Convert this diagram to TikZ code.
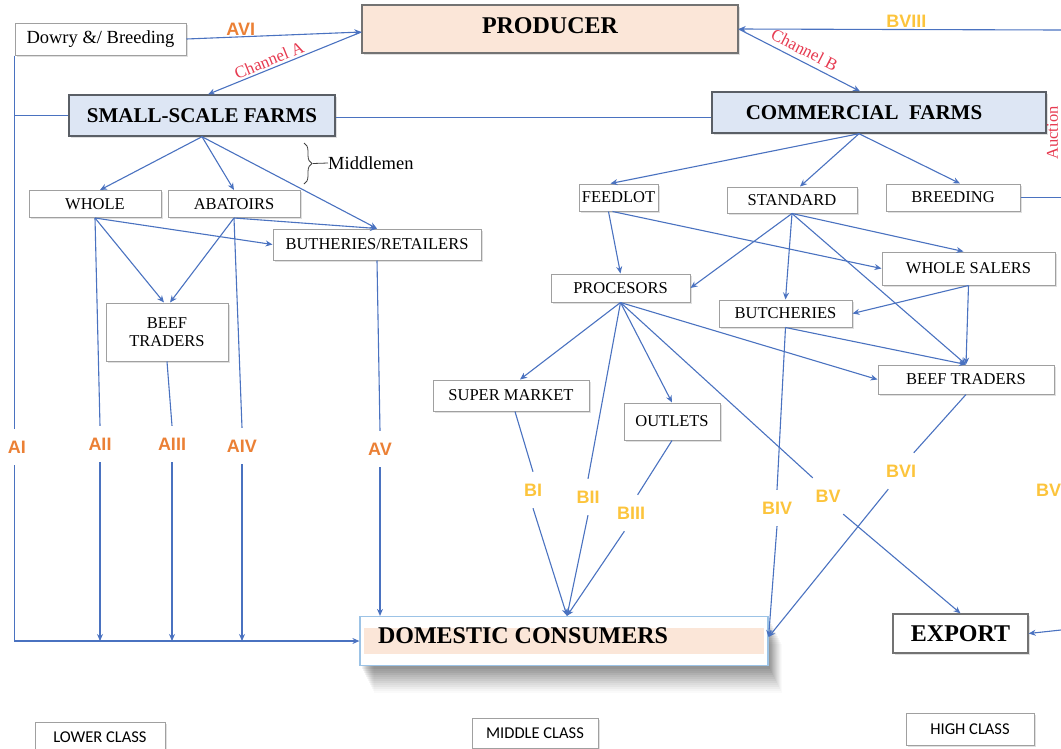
\documentclass[tikz,border=0pt]{standalone}
\usepackage{fontspec}
\setmainfont{Liberation Serif}
\newfontfamily\calib{Carlito}
\newfontfamily\lsans{Liberation Sans}
\usetikzlibrary{arrows.meta,shadows,decorations.pathreplacing,calc}
\definecolor{lineblue}{HTML}{4A72C0}
\definecolor{boxgray}{HTML}{A0A0A0}
\definecolor{darkbord}{HTML}{5A5F66}
\definecolor{lightblue}{HTML}{DDE6F4}
\definecolor{peach}{HTML}{FBE6D8}
\definecolor{domblue}{HTML}{9CC3E6}
\definecolor{aorange}{HTML}{EB8035}
\definecolor{bgold}{HTML}{FCC43C}
\definecolor{chred}{HTML}{E63A50}
\begin{document}
\begin{tikzpicture}[x=1pt,y=-1pt,
  conn/.style={draw=lineblue, line width=1.1pt},
  arr/.style={conn, -{Stealth[length=7pt,width=6pt]}},
  softshadow/.style={drop shadow={shadow xshift=1.5pt, shadow yshift=-1.5pt, opacity=0.3, fill=black!40}},
  sbox/.style={draw=boxgray, fill=white, line width=1pt, inner sep=0pt, align=center,
    font=\fontsize{16.5}{17.5}\selectfont, softshadow},
  bigbox/.style={draw=darkbord, fill=lightblue, line width=1.4pt, inner sep=0pt,
    font=\bfseries\fontsize{21}{23}\selectfont, softshadow},
  classbox/.style={draw=boxgray, fill=white, line width=1pt, inner sep=0pt,
    font=\calib\fontsize{16.5}{17}\selectfont, softshadow},
  labfont/.style={font=\lsans\bfseries\fontsize{18}{18}\selectfont},
  alabel/.style={text=aorange, labfont, minimum width=24, minimum height=36, inner sep=0pt},
  blabel/.style={text=bgold, labfont, minimum width=30, minimum height=36, inner sep=0pt},
  chan/.style={text=chred, font=\fontsize{17}{17}\selectfont, inner sep=1pt}
]
\useasboundingbox (0,0) rectangle (1061,748);
\clip (0,0) rectangle (1061,748);

% ---------- nodes ----------
\node[sbox, minimum width=171, minimum height=32, font=\fontsize{18.5}{19}\selectfont] (dowry) at (100.5,39) {Dowry \&/ Breeding};
\node[draw=black!55, fill=peach, line width=1.3pt, minimum width=376, minimum height=48, inner sep=0pt,
  font=\bfseries\fontsize{24}{26}\selectfont, text depth=7pt, softshadow] (producer) at (550,29) {PRODUCER};
\node[bigbox, minimum width=266, minimum height=41] (small) at (202,115.5) {SMALL-SCALE FARMS};
\node[bigbox, minimum width=334, minimum height=41] (commercial) at (879,112.5) {COMMERCIAL~~FARMS\hspace*{30pt}};

\node[sbox, minimum width=132, minimum height=27] (whole) at (95,204) {WHOLE};
\node[sbox, minimum width=132, minimum height=27] (abatoirs) at (234,204) {ABATOIRS};
\node[sbox, minimum width=208, minimum height=31] (butheries) at (377,244.5) {BUTHERIES/RETAILERS};
\node[sbox, minimum width=122, minimum height=58] (beefL) at (167,332) {BEEF\\TRADERS};

\node[sbox, minimum width=79, minimum height=27] (feedlot) at (618.5,197.5) {FEEDLOT};
\node[sbox, minimum width=130, minimum height=26] (standard) at (792,200) {STANDARD};
\node[sbox, minimum width=134, minimum height=27] (breeding) at (953,197.5) {BREEDING};
\node[sbox, minimum width=173, minimum height=33] (wholesalers) at (968.5,268.5) {WHOLE SALERS};
\node[sbox, minimum width=139, minimum height=28] (procesors) at (620.5,288) {PROCESORS};
\node[sbox, minimum width=133, minimum height=27] (butcheries) at (785.5,313.5) {BUTCHERIES};
\node[sbox, minimum width=176, minimum height=29] (beefR) at (966,379.5) {BEEF TRADERS};
\node[sbox, minimum width=156, minimum height=31] (supermarket) at (511,395.5) {SUPER MARKET};
\node[sbox, minimum width=96, minimum height=37] (outlets) at (672,421.5) {OUTLETS};

\node[draw=domblue, line width=1.2pt, fill=white, minimum width=408, minimum height=49, inner sep=0pt,
  font=\bfseries\fontsize{24}{26}\selectfont, text depth=10pt,
  path picture={\fill[peach] ($(path picture bounding box.south west)+(4pt,12pt)$) rectangle ($(path picture bounding box.north east)+(-4pt,-11pt)$);},
  drop shadow={shadow xshift=2pt, shadow yshift=-3pt, opacity=0.05, fill=black},
  drop shadow={shadow xshift=3pt, shadow yshift=-5pt, opacity=0.05, fill=black},
  drop shadow={shadow xshift=4pt, shadow yshift=-7pt, opacity=0.05, fill=black},
  drop shadow={shadow xshift=5pt, shadow yshift=-9pt, opacity=0.05, fill=black},
  drop shadow={shadow xshift=6pt, shadow yshift=-11pt, opacity=0.05, fill=black},
  drop shadow={shadow xshift=7pt, shadow yshift=-13pt, opacity=0.04, fill=black},
  drop shadow={shadow xshift=8pt, shadow yshift=-15pt, opacity=0.04, fill=black},
  drop shadow={shadow xshift=9pt, shadow yshift=-17pt, opacity=0.04, fill=black},
  drop shadow={shadow xshift=10pt, shadow yshift=-19pt, opacity=0.04, fill=black},
  drop shadow={shadow xshift=11pt, shadow yshift=-21pt, opacity=0.035, fill=black},
  drop shadow={shadow xshift=12pt, shadow yshift=-23pt, opacity=0.03, fill=black},
  drop shadow={shadow xshift=13pt, shadow yshift=-25pt, opacity=0.025, fill=black},
  drop shadow={shadow xshift=14pt, shadow yshift=-27pt, opacity=0.02, fill=black}
  ] (domestic) at (564,641) {\makebox[372pt][l]{DOMESTIC CONSUMERS}};
\node[draw=black!55, fill=white, line width=1.3pt, minimum width=135, minimum height=39, inner sep=0pt,
  font=\bfseries\fontsize{24}{26}\selectfont, softshadow] (export) at (960.5,633.5) {EXPORT};

\node[classbox, minimum width=130, minimum height=30] (lower) at (100,737) {LOWER CLASS};
\node[classbox, minimum width=126, minimum height=30] (middle) at (535,733) {MIDDLE CLASS};
\node[classbox, minimum width=128, minimum height=32] (high) at (970,729) {HIGH CLASS};

% labels on broken lines
\node[alabel] (lAI) at (17,447) {AI};
\node[alabel] (lAII) at (100,444) {AII};
\node[alabel] (lAIII) at (172,444) {AIII};
\node[alabel] (lAIV) at (242,446) {AIV};
\node[alabel] (lAV) at (380,449) {AV};
\node[blabel] (lBI) at (533,490) {BI};
\node[blabel] (lBII) at (588,497) {BII};
\node[blabel] (lBIII) at (631,513) {BIII};
\node[blabel] (lBIV) at (777,508) {BIV};
\node[blabel] (lBV) at (828,496) {BV};
\node[blabel] (lBVI) at (901,471) {BVI};
\node[blabel, anchor=west] (lBVII) at (1036,490) {BVII};
\node[text=chred, font=\fontsize{16.5}{16.5}\selectfont, inner sep=0pt, rotate=90] (auction) at (1052.5,133) {Auction};

% edge coordinates (off-picture right side)
\coordinate (rtop) at (1061,30);
\coordinate (rbot) at (1061,630);

% brace + Middlemen
\node[anchor=west, inner sep=0pt, font=\fontsize{18.5}{19}\selectfont] (middlemen) at (328,163) {Middlemen};
\draw[black!75, line width=0.8pt, decorate, decoration={brace, amplitude=8pt}] (304,143) -- (304,184);
\coordinate (bracetip) at (313,163.5);
\draw[black!75, line width=0.8pt] (bracetip) -- (middlemen.west);

% ---------- channel A ----------
\draw[arr] (dowry.east) -- node[pos=0.31, above=1pt, inner sep=0pt, text=aorange, labfont] {AVI} ([yshift=-3pt]producer.west);
\draw[arr] ([yshift=-3pt]producer.west) -- node[chan, sloped, above=1pt, pos=0.58] {Channel A} ([xshift=6pt]small.north);
\draw[conn] (dowry.south west) -- (lAI.north -| dowry.west);
\draw[arr] (lAI.south -| dowry.west) |- (domestic.west);
\draw[conn] (dowry.west |- small.west) -- (small.west);
\draw[conn] ([yshift=-2pt]small.east) -- ([yshift=-2pt]small.east -| commercial.west);

\draw[arr] (small.south) -- ([xshift=5pt]whole.north);
\draw[arr] (small.south) -- (abatoirs.north);
\draw[arr] (small.south) -- (butheries.north);
\draw[arr] (whole.south) -- (butheries.west);
\draw[arr] (whole.south) -- ([xshift=-3pt]beefL.north);
\draw[arr] (abatoirs.south) -- (butheries.north);
\draw[arr] (abatoirs.south) -- ([xshift=3pt]beefL.north);

\draw[conn] (whole.south) -- (lAII.north);
\draw[arr] (lAII.south) -- (lAII.south |- domestic.west);
\draw[conn] (beefL.south) -- (lAIII.north);
\draw[arr] (lAIII.south) -- (lAIII.south |- domestic.west);
\draw[conn] (abatoirs.south) -- (lAIV.north);
\draw[arr] (lAIV.south) -- (lAIV.south |- domestic.west);
\draw[conn] (butheries.south) -- (lAV.north);
\draw[arr] (lAV.south) -- (lAV.south |- domestic.north);

% ---------- channel B ----------
\draw[arr] (producer.east) -- node[chan, sloped, above=4pt, pos=0.5] {Channel B} ([xshift=-19pt]commercial.north);
\draw[arr] (rtop) -- node[pos=0.48, above=1pt, inner sep=0pt, text=bgold, labfont] {BVIII} (producer.east);
\draw[arr] ([xshift=-20pt]commercial.south) -- ([xshift=-8pt]feedlot.north);
\draw[arr] ([xshift=-20pt]commercial.south) -- ([xshift=8pt]standard.north);
\draw[arr] ([xshift=-20pt]commercial.south) -- ([xshift=7pt]breeding.north);
\draw[conn] (breeding.east) -- (breeding.east -| rtop);
\draw[arr] (rbot) -- (export.east);

\draw[arr] ([xshift=-10pt]feedlot.south) -- (procesors.north);
\draw[arr] ([xshift=-6pt]feedlot.south) -- (wholesalers.west);
\draw[arr] (standard.south) -- (procesors.east);
\draw[arr] (standard.south) -- (butcheries.north);
\draw[arr] (standard.south) -- ([xshift=-5pt]wholesalers.north);
\draw[arr] (standard.south) -- (beefR.north);
\draw[arr] (wholesalers.south) -- (butcheries.east);
\draw[arr] (wholesalers.south) -- (beefR.north);
\draw[arr] (butcheries.south) -- (beefR.north);

\draw[arr] (procesors.south) -- ([xshift=9pt]supermarket.north);
\draw[arr] (procesors.south) -- (outlets.north);
\draw[arr] (procesors.south) -- (beefR.west);

\draw[conn] ([xshift=4pt]supermarket.south) -- (lBI.north);
\draw[arr] (lBI.south) -- ([xshift=3pt]domestic.north);
\draw[conn] (procesors.south) -- (lBII.north);
\draw[arr] (lBII.south) -- ([xshift=3pt]domestic.north);
\draw[conn] (outlets.south) -- (lBIII.70);
\draw[arr] (lBIII.250) -- ([xshift=3pt]domestic.north);
\draw[conn] (butcheries.south) -- (lBIV.north);
\draw[arr] (lBIV.south) -- ([yshift=4pt]domestic.east);
\draw[conn] (procesors.south) -- (lBV.130);
\draw[arr] (lBV.310) -- (export.north);
\draw[conn] (beefR.south) -- (lBVI.55);
\draw[arr] (lBVI.235) -- ([yshift=4pt]domestic.east);
\end{tikzpicture}
\end{document}
